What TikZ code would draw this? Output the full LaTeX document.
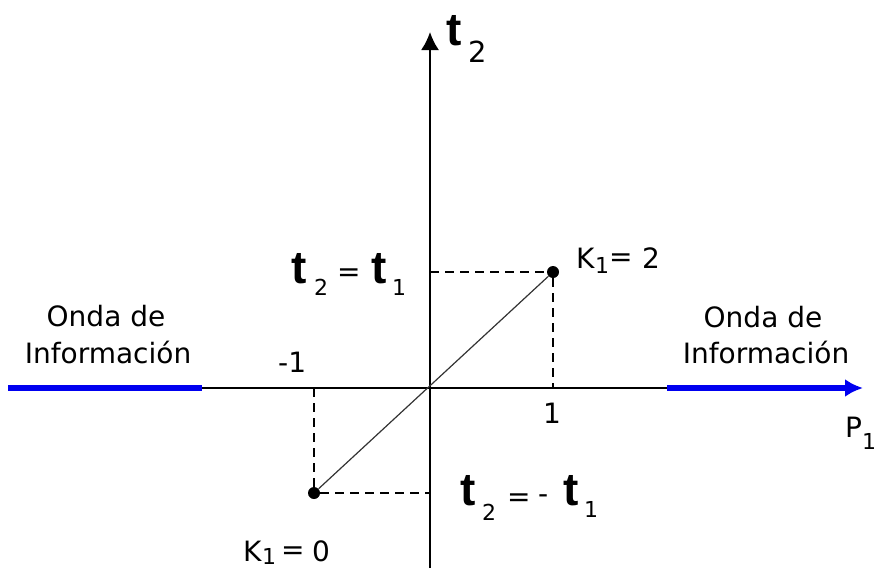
\documentclass[tikz,border=0pt]{standalone}
\usepackage{fontspec}
\setmainfont{DejaVu Sans}
\newfontfamily\lsans{Liberation Sans}
\usetikzlibrary{arrows.meta}
\definecolor{wave}{RGB}{0,0,240}
\tikzset{
  lab/.style={inner sep=0pt, anchor=base west, font=\fontsize{28}{34}\selectfont},
  clab/.style={inner sep=0pt, anchor=base, font=\fontsize{28}{34}\selectfont},
  sub/.style={inner sep=0pt, anchor=base west, font=\fontsize{22}{26}\selectfont},
  bigsub/.style={inner sep=0pt, anchor=base west, font=\fontsize{29}{34}\selectfont},
  bt/.style={inner sep=0pt, anchor=base west, font=\lsans\bfseries\fontsize{46}{50}\selectfont},
  axis/.style={line width=2pt, black},
  guide/.style={line width=2pt, dash pattern=on 9pt off 6pt},
  diag/.style={line width=1.2pt, black!80},
  wavearrow/.style={line width=6pt, wave},
  dot/.style={circle, fill=black, inner sep=0pt, minimum size=12pt},
  tip/.style={-{Latex[length=18pt,width=18pt]}}
}
\begin{document}
\begin{tikzpicture}[x=1pt,y=-1pt]
\useasboundingbox (0,0) rectangle (875,568);
% coordinates
\coordinate (O) at (430,388);
\coordinate (Xl) at (8,388);
\coordinate (Xr) at (863,388);
\coordinate (Bl) at (202,388);
\coordinate (Br) at (667,388);
\coordinate (Yb) at (430,568);
\coordinate (Yt) at (430,32);
\coordinate (Ya) at (430,272);
\coordinate (Yc) at (430,493);
\coordinate (Xa) at (553,388);
\coordinate (Xc) at (314,388);
% axes
\draw[axis] (Xl) -- (Br);
\draw[axis, tip] (Yb) -- (Yt);
\draw[wavearrow, tip] (Br) -- (Xr);
\draw[wavearrow] (Xl) -- (Bl);
% points
\node[dot] (K2) at (553,272) {};
\node[dot] (K0) at (314,493) {};
\draw[diag] (K0) -- (K2);
\draw[guide] (Ya) -- (K2);
\draw[guide] (K2) -- (Xa);
\draw[guide] (Xc) -- (K0);
\draw[guide] (K0) -- (Yc);
% top label t2
\node[bt] (tt) at (446,45) {t};
\node[bigsub] (tts) at (468,62) {2};
% t2 = t1
\node[bt] (e1t) at (291,283) {t};
\node[sub] (e1s) at (314,295) {2};
\node[lab] (e1eq) at (337,281) {=};
\node[bt] (e1t2) at (371,283) {t};
\node[sub] (e1s2) at (392,295) {1};
% t2 = -t1
\node[bt] (e2t) at (460,505) {t};
\node[sub] (e2s) at (482,520) {2};
\node[lab] (e2eq) at (507,506) {=};
\node[lab] (e2m) at (538,503) {-};
\node[bt] (e2t2) at (563,505) {t};
\node[sub] (e2s2) at (584,517) {1};
% K1 = 2
\node[lab] (k2K) at (576,268) {K};
\node[sub] (k2s) at (595,273) {1};
\node[lab] (k2eq) at (609,266) {=};
\node[lab] (k2n) at (642,268) {2};
% K1 = 0
\node[lab] (k0K) at (243,561) {K};
\node[sub] (k0s) at (262,564) {1};
\node[lab] (k0eq) at (281,559) {=};
\node[lab] (k0n) at (312,561) {0};
% tick labels
\node[lab] (m1) at (278,372) {-1};
\node[lab] (p1) at (543,423) {1};
% P1
\node[lab] (P) at (845,437) {P};
\node[sub] (Ps) at (862,449) {1};
% wave labels
\node[clab] (oL1) at (106,326) {Onda de};
\node[clab] (oL2) at (108,363) {Información};
\node[clab] (oR1) at (763,327) {Onda de};
\node[clab] (oR2) at (766,363) {Información};
\end{tikzpicture}
\end{document}
